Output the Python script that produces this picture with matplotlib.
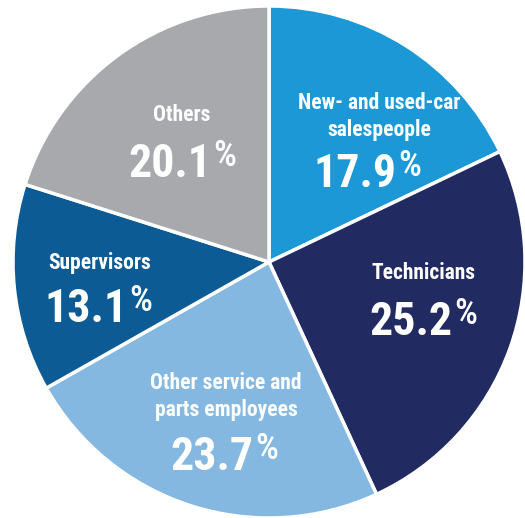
import matplotlib
matplotlib.use("Agg")
import matplotlib.pyplot as plt

categories = ["New- and used-car\nsalespeople", "Technicians",
              "Other service and\nparts employees", "Supervisors", "Others"]
shares = [17.9, 25.2, 23.7, 13.1, 20.1]
colors = ["#1b98d5", "#222a62", "#85b8e0", "#0c5b94", "#a8a9ad"]

# label anchor points (title centre, number baseline centre) in axis units
title_pos = [(0.43, 0.568), (0.605, -0.043), (-0.168, -0.525), (-0.66, -0.004), (-0.34, 0.574)]
num_pos = [(0.336, 0.293), (0.555, -0.286), (-0.223, -0.813), (-0.715, -0.235), (-0.387, 0.333)]

plt.rcParams["font.family"] = ["Roboto Condensed", "DejaVu Sans"]

fig = plt.figure(figsize=(5.25, 5.18), dpi=100)
ax = fig.add_axes([0, 0, 1, 1])
ax.pie(shares, colors=colors, startangle=90, counterclock=False, radius=1.0,
       wedgeprops=dict(edgecolor="white", linewidth=2.5))
ax.set_xlim(-269 / 256, 256 / 256)
ax.set_ylim(-256 / 256, 262 / 256)
ax.set_aspect("equal")
ax.axis("off")

num_size, pct_size = 33, 26
nums = []
for cat, val, tp, npos in zip(categories, shares, title_pos, num_pos):
    ax.text(tp[0], tp[1], cat, ha="center", va="center", color="white",
            fontsize=15.5, fontweight="bold", linespacing=1.3)
    t = ax.text(npos[0], npos[1], f"{val:.1f}", ha="center", va="baseline",
                color="white", fontsize=num_size, fontweight="bold")
    nums.append((t, npos))

# small raised percent sign after each number
fig.canvas.draw()
for t, npos in nums:
    half_w = t.get_window_extent().width / 2 * 72 / fig.dpi
    ax.annotate("%", xy=npos, xycoords="data",
                xytext=(half_w + 1, 0.71 * (num_size - pct_size) + 3),
                textcoords="offset points", ha="left", va="baseline",
                color="white", fontsize=pct_size, fontweight="medium")

fig.savefig("out.png", dpi=100)
